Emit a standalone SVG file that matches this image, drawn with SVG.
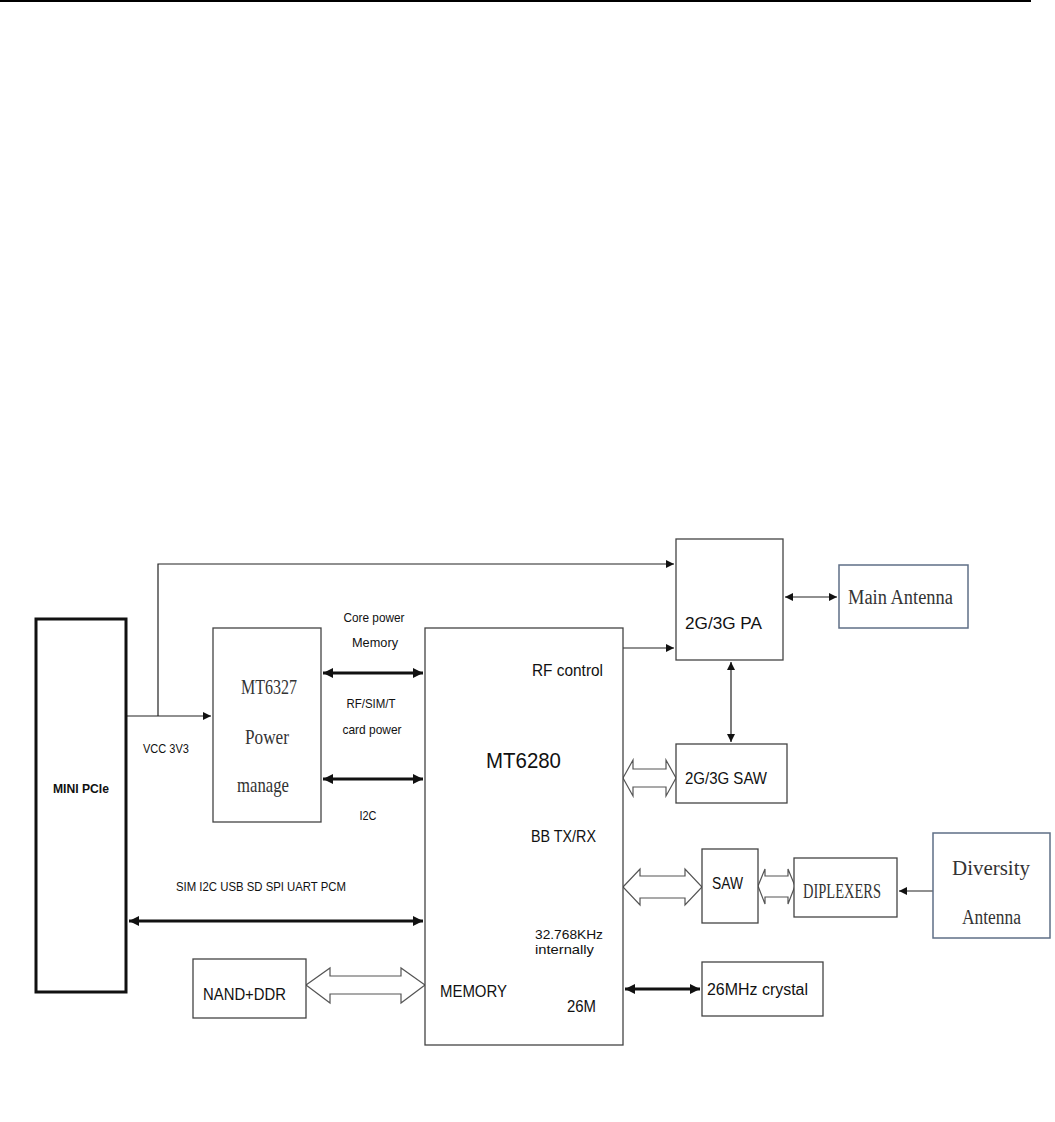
<svg xmlns="http://www.w3.org/2000/svg" width="1055" height="1122" viewBox="0 0 1055 1122">
<style>
.box{fill:#fff;stroke:#444;stroke-width:1.3}
.ant{fill:#fff;stroke:#5f6f86;stroke-width:1.5}
.ln{fill:none;stroke:#222;stroke-width:1.2}
.thk{fill:none;stroke:#111;stroke-width:3}
.hol{fill:#fff;stroke:#555;stroke-width:1.2}
.s{font-family:"Liberation Sans",Arial,sans-serif;fill:#111}
.r{font-family:"Liberation Serif","Times New Roman",serif;fill:#333}
</style>
<defs>
<marker id="a" viewBox="0 0 10 10" refX="10" refY="5" markerWidth="8" markerHeight="8" markerUnits="userSpaceOnUse" orient="auto-start-reverse"><path d="M0,0L10,5L0,10z" fill="#111"/></marker>
<marker id="b" viewBox="0 0 10 10" refX="10" refY="5" markerWidth="11" markerHeight="10" markerUnits="userSpaceOnUse" orient="auto-start-reverse"><path d="M0,0L10,5L0,10z" fill="#111"/></marker>
</defs>
<line x1="0" y1="1" x2="1031" y2="1" stroke="#000" stroke-width="2"/>

<g id="connectors">
<polyline class="ln" points="127,716 211,716" marker-end="url(#a)"/>
<polyline class="ln" points="158,716 158,564 674,564" marker-end="url(#a)"/>
<line class="ln" x1="623" y1="648" x2="674" y2="648" marker-end="url(#a)"/>
<line class="ln" x1="785" y1="597" x2="837" y2="597" marker-start="url(#a)" marker-end="url(#a)"/>
<line class="ln" x1="731" y1="662" x2="731" y2="742" marker-start="url(#a)" marker-end="url(#a)"/>
<line class="ln" x1="933" y1="891" x2="899" y2="891" marker-end="url(#a)"/>
<line class="thk" x1="323" y1="673" x2="423" y2="673" marker-start="url(#b)" marker-end="url(#b)"/>
<line class="thk" x1="323" y1="779" x2="423" y2="779" marker-start="url(#b)" marker-end="url(#b)"/>
<line class="thk" x1="129" y1="921" x2="423" y2="921" marker-start="url(#b)" marker-end="url(#b)"/>
<line class="thk" x1="625" y1="989" x2="700" y2="989" marker-start="url(#b)" marker-end="url(#b)"/>
<polygon class="hol" points="623,778 633,760 633,769 666,769 666,760 676,778 666,796 666,787 633,787 633,796"/>
<polygon class="hol" points="623,887 640,869 640,876 685,876 685,869 702,887 685,905 685,898 640,898 640,905"/>
<polygon class="hol" points="758,886 765,869 765,876 788,876 788,869 795,886 788,904 788,897 765,897 765,904"/>
<polygon class="hol" points="306,985 330,968 330,976 401,976 401,968 425,985 401,1003 401,994 330,994 330,1003"/>
<text class="s" x="374" y="622" font-size="13" text-anchor="middle" textLength="61" lengthAdjust="spacingAndGlyphs">Core power</text>
<text class="s" x="375" y="647" font-size="13" text-anchor="middle" textLength="46" lengthAdjust="spacingAndGlyphs">Memory</text>
<text class="s" x="371" y="708" font-size="13" text-anchor="middle" textLength="49" lengthAdjust="spacingAndGlyphs">RF/SIM/T</text>
<text class="s" x="372" y="734" font-size="13" text-anchor="middle" textLength="59" lengthAdjust="spacingAndGlyphs">card power</text>
<text class="s" x="368" y="820" font-size="13" text-anchor="middle" textLength="17" lengthAdjust="spacingAndGlyphs">I2C</text>
<text class="s" x="143" y="753" font-size="13" textLength="46" lengthAdjust="spacingAndGlyphs">VCC 3V3</text>
<text class="s" x="176" y="891" font-size="13" textLength="170" lengthAdjust="spacingAndGlyphs">SIM I2C USB SD SPI UART PCM</text>
</g>

<g id="minipcie">
<rect x="36" y="619" width="90" height="373" fill="#fff" stroke="#111" stroke-width="3"/>
<text class="s" x="53" y="793" font-size="13" font-weight="bold" textLength="56" lengthAdjust="spacingAndGlyphs">MINI PCIe</text>
</g>

<g id="mt6327">
<rect class="box" x="213" y="628" width="108" height="194"/>
<text class="r" x="241" y="694" font-size="22" textLength="56" lengthAdjust="spacingAndGlyphs">MT6327</text>
<text class="r" x="245" y="744" font-size="21" textLength="44" lengthAdjust="spacingAndGlyphs">Power</text>
<text class="r" x="237" y="792" font-size="21" textLength="52" lengthAdjust="spacingAndGlyphs">manage</text>
</g>

<g id="mt6280">
<rect class="box" x="425" y="628" width="198" height="417"/>
<text class="s" x="532" y="676" font-size="17" textLength="71" lengthAdjust="spacingAndGlyphs">RF control</text>
<text class="s" x="486" y="768" font-size="22" textLength="75" lengthAdjust="spacingAndGlyphs">MT6280</text>
<text class="s" x="531" y="842" font-size="16" textLength="65" lengthAdjust="spacingAndGlyphs">BB TX/RX</text>
<text class="s" x="535" y="939" font-size="13" textLength="68" lengthAdjust="spacingAndGlyphs">32.768KHz</text>
<text class="s" x="535" y="954" font-size="13" textLength="59" lengthAdjust="spacingAndGlyphs">internally</text>
<text class="s" x="440" y="997" font-size="16" textLength="67" lengthAdjust="spacingAndGlyphs">MEMORY</text>
<text class="s" x="567" y="1012" font-size="16" textLength="29" lengthAdjust="spacingAndGlyphs">26M</text>
</g>

<g id="pa">
<rect class="box" x="676" y="539" width="107" height="121"/>
<text class="s" x="685" y="629" font-size="17" textLength="77" lengthAdjust="spacingAndGlyphs">2G/3G PA</text>
</g>

<g id="saw3g">
<rect class="box" x="676" y="744" width="111" height="59"/>
<text class="s" x="685" y="784" font-size="17" textLength="82" lengthAdjust="spacingAndGlyphs">2G/3G SAW</text>
</g>

<g id="mainantenna">
<rect class="ant" x="839" y="565" width="129" height="63"/>
<text class="r" x="848" y="604" font-size="20" textLength="105" lengthAdjust="spacingAndGlyphs">Main Antenna</text>
</g>

<g id="saw">
<rect class="box" x="702" y="849" width="56" height="74"/>
<text class="s" x="712" y="889" font-size="16" textLength="31" lengthAdjust="spacingAndGlyphs">SAW</text>
</g>

<g id="diplexers">
<rect class="box" x="794" y="858" width="103" height="59"/>
<text class="r" x="803" y="898" font-size="20" textLength="78" lengthAdjust="spacingAndGlyphs">DIPLEXERS</text>
</g>

<g id="diversity">
<rect class="ant" x="933" y="833" width="117" height="105"/>
<text class="r" x="952" y="875" font-size="20" textLength="78" lengthAdjust="spacingAndGlyphs">Diversity</text>
<text class="r" x="962" y="924" font-size="20" textLength="59" lengthAdjust="spacingAndGlyphs">Antenna</text>
</g>

<g id="nandddr">
<rect class="box" x="193" y="959" width="113" height="59"/>
<text class="s" x="203" y="1000" font-size="16" textLength="83" lengthAdjust="spacingAndGlyphs">NAND+DDR</text>
</g>

<g id="crystal">
<rect class="box" x="702" y="962" width="121" height="54"/>
<text class="s" x="707" y="995" font-size="16" textLength="101" lengthAdjust="spacingAndGlyphs">26MHz crystal</text>
</g>
</svg>
